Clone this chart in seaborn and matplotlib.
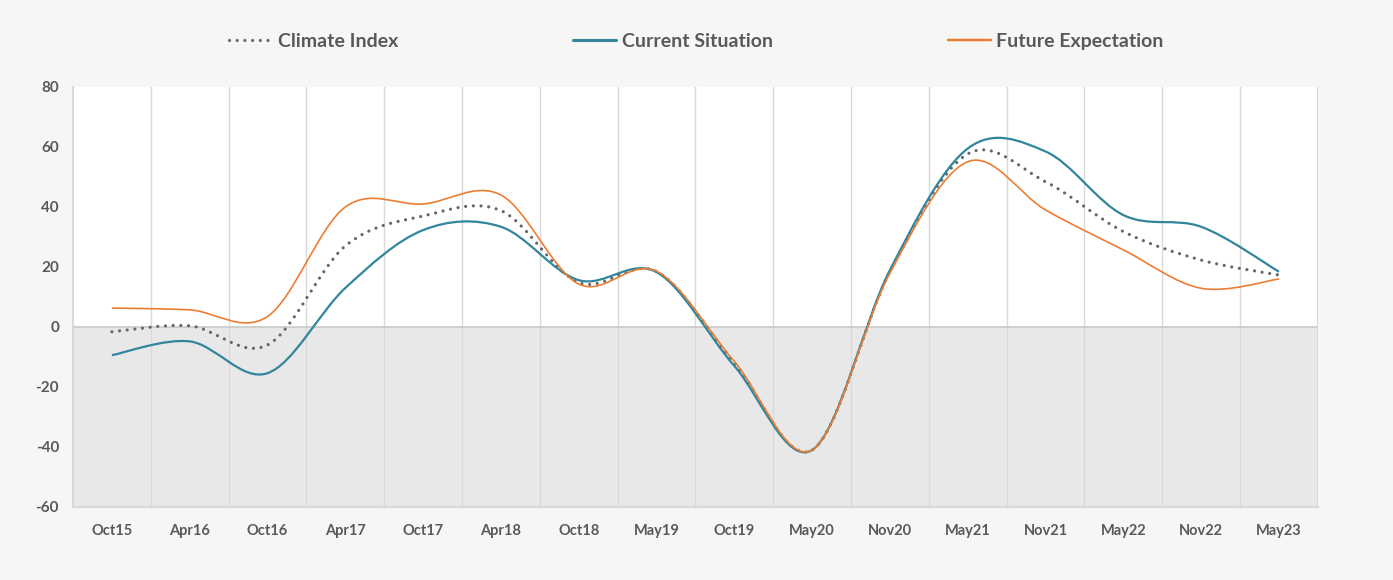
import numpy as np
import pandas as pd
import matplotlib
matplotlib.use("Agg")
import matplotlib.pyplot as plt
from matplotlib.path import Path
from matplotlib.patches import PathPatch
import seaborn as sns

periods = ["Oct15", "Apr16", "Oct16", "Apr17", "Oct17", "Apr18", "Oct18", "May19",
           "Oct19", "May20", "Nov20", "May21", "Nov21", "May22", "Nov22", "May23"]
climate_index = [-1.6, 0.4, -6.0, 27.0, 37.0, 38.8, 14.8, 18.5,
                 -12.0, -41.0, 18.5, 57.7, 48.4, 31.8, 22.3, 17.3]
current_situation = [-9.4, -4.8, -15.4, 13.0, 32.3, 33.4, 15.6, 18.3,
                     -13.0, -41.0, 19.0, 59.5, 58.5, 37.3, 33.4, 18.4]
future_expectation = [6.3, 5.7, 3.5, 40.0, 41.0, 44.0, 14.3, 18.6,
                      -11.5, -41.0, 18.0, 55.1, 39.0, 25.7, 12.9, 16.0]

series_names = ["Climate Index", "Current Situation", "Future Expectation"]
colors = ["#666666", "#31859C", "#ED7D31"]

df = pd.DataFrame({"x": np.arange(len(periods))})
df["Climate Index"] = climate_index
df["Current Situation"] = current_situation
df["Future Expectation"] = future_expectation
long_df = df.melt(id_vars="x", var_name="series", value_name="value")

sns.set_theme(style="white")
plt.rcParams["font.family"] = ["Lato", "DejaVu Sans"]
plt.rcParams["axes.unicode_minus"] = False

fig = plt.figure(figsize=(13.93, 5.8), dpi=100, facecolor="#f6f6f4")
ax = fig.add_axes([0.0524, 0.1259, 0.8937, 0.7241])
ax.set_facecolor("white")

sns.lineplot(data=long_df, x="x", y="value", hue="series", hue_order=series_names,
             palette=colors, ax=ax, legend=False, zorder=3)
data_lines = list(ax.lines)

# shaded negative area and zero line
ax.axhspan(-60, 0, color="#e8e8e8", zorder=0, lw=0)
ax.axhline(0, color="#c9c9c9", lw=1.2, zorder=1)

styles = {
    "Climate Index": dict(lw=2.3, ls=(0, (0.01, 2.4)), cap="round"),
    "Current Situation": dict(lw=1.6, ls="-", cap="butt"),
    "Future Expectation": dict(lw=1.2, ls="-", cap="butt"),
}

handles = []
for name, c in zip(series_names, colors):
    st = styles[name]
    h = plt.Line2D([], [], color=c, lw=st["lw"] + (0.6 if name != "Climate Index" else 0),
                   ls=st["ls"], dash_capstyle=st["cap"], label=name)
    handles.append(h)

# draw each seaborn line as a smoothed bezier (Excel-style smoothing)
for line, name in zip(data_lines, series_names):
    xd, yd = line.get_xdata(), line.get_ydata()
    pts = np.column_stack([xd, yd])
    verts = [pts[0]]
    codes = [Path.MOVETO]
    n = len(pts)
    for i in range(n - 1):
        p0 = pts[i - 1] if i > 0 else pts[i]
        p1, p2 = pts[i], pts[i + 1]
        p3 = pts[i + 2] if i + 2 < n else pts[i + 1]
        c1 = p1 + (p2 - p0) / 6.0
        c2 = p2 - (p3 - p1) / 6.0
        verts += [c1, c2, p2]
        codes += [Path.CURVE4] * 3
    st = styles[name]
    patch = PathPatch(Path(verts, codes), fill=False, edgecolor=line.get_color(),
                      lw=st["lw"], ls=st["ls"], capstyle=st["cap"], zorder=3)
    ax.add_patch(patch)
    line.set_visible(False)

ax.set_xlim(-0.5, len(periods) - 0.5)
ax.set_ylim(-60, 80)
ax.set_yticks(range(-60, 81, 20))
ax.set_xticks(range(len(periods)))
ax.set_xticklabels(periods)
ax.set_xticks(np.arange(0.5, len(periods) - 1, 1.0), minor=True)
ax.grid(which="minor", axis="x", color="#d9d9d9", lw=1.0, zorder=1)
ax.grid(which="major", visible=False)
ax.tick_params(which="both", length=0)
ax.tick_params(axis="x", pad=12, labelsize=10.5, labelcolor="#595959")
ax.tick_params(axis="y", pad=10, labelsize=11, labelcolor="#595959")
for lab in ax.get_xticklabels() + ax.get_yticklabels():
    lab.set_fontweight("bold")
ax.set_xlabel("")
ax.set_ylabel("")
for side in ["top", "right"]:
    ax.spines[side].set_visible(False)
for side in ["left", "bottom"]:
    ax.spines[side].set_color("#d9d9d9")
    ax.spines[side].set_linewidth(1.5)
ax.axvline(len(periods) - 0.5, color="#d9d9d9", lw=1.5, zorder=1)

leg = fig.legend(handles=handles, loc="center", bbox_to_anchor=(0.5, 0.929), ncol=3,
                 frameon=False, fontsize=14, handlelength=2.2, handletextpad=0.3,
                 columnspacing=9.0)
for t in leg.get_texts():
    t.set_color("#595959")
    t.set_fontweight("bold")

fig.savefig("out.png", dpi=100, facecolor=fig.get_facecolor())
